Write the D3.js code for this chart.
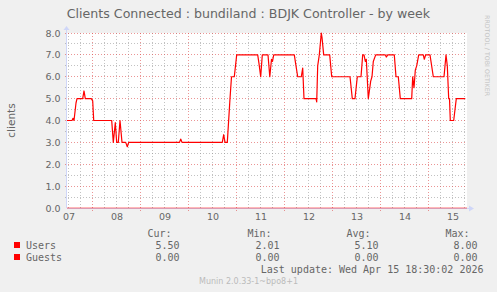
<!DOCTYPE html>
<html>
<head>
<meta charset="utf-8">
<script src="https://cdn.jsdelivr.net/npm/d3@7"></script>
<style>
    html, body { margin: 0; padding: 0; background: #f0f0f0; }
    svg { display: block; }
    text { font-family: "DejaVu Sans", sans-serif; fill: #666; }
    .mono { font-family: "DejaVu Sans Mono", monospace; }
</style>
</head>
<body>
<svg id="chart" width="497" height="292"></svg>
<script>
// Donnees (heures depuis le 07 avril 00:00 UTC)
const title = "Clients Connected : bundiland : BDJK Controller - by week";
const t0 = Date.UTC(2026, 3, 7);
const viewStartHours = 11.25;
const viewEndHours = 211.25;

const usersHours = [
    11.25, 13.75, 14.25, 14.75, 15.75, 16.25, 19.1, 19.75, 20.4, 23.4, 24.1, 24.6,
    33.6, 34.4, 35.4, 36.1, 36.9, 37.75, 38.75, 40.6, 41.4, 42.1,
    67.5, 68.1, 68.75, 88.9, 89.6, 90.25, 91.4, 92.75, 93.5, 94.9, 96.1,
    106.6, 107.25, 108.1, 108.9, 111.75, 112.65, 113.5, 114, 114.6,
    124.9, 125.75, 126.6, 128.4, 129.1, 129.75, 135.75, 136.1, 136.6, 137.4, 138.4, 138.75, 139.6,
    142.6, 143.6, 152.75, 153.9, 155.25, 156.4, 158.25, 159.1, 159.75, 160.4, 160.9, 161.9,
    163.1, 163.75, 164.4, 165.6, 170.4, 170.9, 171.6, 174.9, 175.75, 176.9, 177.9,
    183.6, 184.1, 184.75, 185.4, 186.1, 187.1, 189.4, 189.9, 190.6, 192.75, 194.4,
    199.75, 200.75, 201.4, 202.1, 202.5, 202.9, 204.6, 205.9, 210.4
];
const usersValues = [
    4.0, 4.0, 4.1, 4.0, 4.8, 5.0, 5.0, 5.35, 5.0, 5.0, 4.9, 4.0,
    4.0, 3.0, 3.9, 3.0, 3.0, 4.0, 3.0, 3.0, 2.8, 3.0,
    3.0, 3.15, 3.0, 3.0, 3.35, 3.0, 3.0, 5.0, 6.0, 6.0, 7.0,
    7.0, 6.6, 6.0, 7.0, 7.0, 6.0, 6.8, 6.7, 7.0,
    7.0, 6.5, 6.0, 6.0, 6.4, 5.0, 5.0, 4.85, 6.5, 7.0, 8.0, 7.8, 7.0,
    7.0, 6.0, 6.0, 5.0, 5.0, 6.0, 6.0, 7.0, 7.0, 6.7, 6.8, 5.0,
    5.8, 6.0, 6.7, 7.0, 7.0, 6.9, 7.0, 7.0, 6.0, 6.0, 5.0,
    5.0, 6.0, 5.5, 6.3, 6.5, 7.0, 7.0, 6.8, 7.0, 7.0, 6.0,
    6.0, 7.0, 6.5, 5.0, 5.0, 4.0, 4.0, 5.0, 5.0
];
const guestsHours = [11.25, 211.25];
const guestsValues = [0, 0];

const legendNames = ["Users", "Guests"];
const legendCur = ["5.50", "0.00"];
const legendMin = ["2.01", "0.00"];
const legendAvg = ["5.10", "0.00"];
const legendMax = ["8.00", "0.00"];
const yTicks = [0, 1, 2, 3, 4, 5, 6, 7, 8];
const yMinorTicks = [0.5, 1.5, 2.5, 3.5, 4.5, 5.5, 6.5, 7.5];
const lastUpdate = "Last update: Wed Apr 15 18:30:02 2026";
const version = "Munin 2.0.33-1~bpo8+1";

const toDate = h => new Date(t0 + h * 3600000);

const svg = d3.select("#chart");
const plotLeft = 67, plotRight = 467, plotTop = 33, plotBottom = 208;

const x = d3.scaleUtc()
    .domain([toDate(viewStartHours), toDate(viewEndHours)])
    .range([plotLeft, plotRight]);
const y = d3.scaleLinear().domain([0, 8]).range([plotBottom, plotTop]);
const crisp = v => Math.floor(v) + 0.5;

// fond du canevas
svg.append("rect").attr("x", plotLeft).attr("y", plotTop)
    .attr("width", plotRight - plotLeft).attr("height", plotBottom - plotTop)
    .attr("fill", "#fff");

const grid = svg.append("g").attr("stroke-width", 1).attr("stroke-dasharray", "1,2");

// grille mineure
const minorHours = d3.utcHour.every(6).range(x.domain()[0], x.domain()[1])
    .filter(d => d.getUTCHours() !== 0);
grid.selectAll(".vminor").data(minorHours).enter().append("line")
    .attr("x1", d => crisp(x(d))).attr("x2", d => crisp(x(d)))
    .attr("y1", plotTop).attr("y2", plotBottom + 2)
    .attr("stroke", "rgba(143,143,143,0.55)");
grid.selectAll(".hminor").data(yMinorTicks).enter().append("line")
    .attr("x1", plotLeft - 2).attr("x2", plotRight)
    .attr("y1", d => crisp(y(d))).attr("y2", d => crisp(y(d)))
    .attr("stroke", "rgba(143,143,143,0.55)");

// grille majeure
const days = d3.utcDay.range(x.domain()[0], x.domain()[1]);
grid.selectAll(".vmajor").data(days).enter().append("line")
    .attr("x1", d => crisp(x(d))).attr("x2", d => crisp(x(d)))
    .attr("y1", plotTop).attr("y2", plotBottom + 3)
    .attr("stroke", "rgba(222,79,79,0.6)");
grid.selectAll(".hmajor").data(yTicks.slice(1)).enter().append("line")
    .attr("x1", plotLeft - 2).attr("x2", plotRight)
    .attr("y1", d => crisp(y(d))).attr("y2", d => crisp(y(d)))
    .attr("stroke", "rgba(222,79,79,0.6)");

// axes
svg.append("line").attr("x1", plotLeft - 0.5).attr("x2", plotLeft - 0.5)
    .attr("y1", plotBottom).attr("y2", plotTop - 4).attr("stroke", "#CFD6F8");
svg.append("path").attr("d", `M${plotLeft - 3.5},${plotTop - 3}L${plotLeft - 0.5},${plotTop - 7}L${plotLeft + 2.5},${plotTop - 3}Z`)
    .attr("fill", "#CFD6F8");
svg.append("line").attr("x1", plotLeft).attr("x2", plotRight + 4)
    .attr("y1", plotBottom + 0.5).attr("y2", plotBottom + 0.5).attr("stroke", "#CFD6F8");
svg.append("path").attr("d", `M${plotRight + 2},${plotBottom - 2.5}L${plotRight + 7},${plotBottom + 0.5}L${plotRight + 2},${plotBottom + 3.5}Z`)
    .attr("fill", "#CFD6F8");

// etiquettes Y
svg.selectAll(".ylab").data(yTicks).enter().append("text")
    .attr("x", 60.5).attr("y", d => y(d) + 3.6)
    .attr("text-anchor", "end").attr("font-size", 9.5)
    .text(d => d.toFixed(1));

// etiquettes X (midi de chaque jour)
const labelDays = d3.utcHour.every(12).range(x.domain()[0], x.domain()[1])
    .filter(d => d.getUTCHours() === 12);
svg.selectAll(".xlab").data(labelDays).enter().append("text")
    .attr("x", d => x(d) + 0.5).attr("y", 219.5)
    .attr("text-anchor", "middle").attr("font-size", 9.5)
    .text(d3.utcFormat("%d"));

// series
const line = d3.line().x(d => x(toDate(d[0]))).y(d => y(d[1]));
svg.append("path").datum(guestsHours.map((h, i) => [h, guestsValues[i]]))
    .attr("d", line).attr("fill", "none").attr("stroke", "#ff0000").attr("stroke-width", 1)
    .attr("opacity", 0.55);
svg.append("path").datum(usersHours.map((h, i) => [h, usersValues[i]]))
    .attr("d", line).attr("fill", "none").attr("stroke", "#ff0000")
    .attr("stroke-width", 1.2).attr("stroke-linejoin", "round");

// titres
svg.append("text").attr("x", 248.5).attr("y", 17.5).attr("text-anchor", "middle")
    .attr("font-size", 12.6).text(title);
svg.append("text").attr("transform", "translate(15,120.5) rotate(-90)")
    .attr("text-anchor", "middle").attr("font-size", 10.5).text("clients");
svg.append("text").attr("transform", "translate(485,15) rotate(90)")
    .attr("font-size", 6.3).style("fill", "#c4c4c4").text("RRDTOOL / TOBI OETIKER");

// legende
const cols = [
    { head: "Cur:", vals: legendCur, x: 179.5 },
    { head: "Min:", vals: legendMin, x: 279.5 },
    { head: "Avg:", vals: legendAvg, x: 378.5 },
    { head: "Max:", vals: legendMax, x: 477.5 }
];
cols.forEach(c => {
    svg.append("text").attr("class", "mono").attr("x", c.x - 8).attr("y", 237.3)
        .attr("text-anchor", "end").attr("font-size", 10).text(c.head);
    svg.selectAll(null).data(c.vals).enter().append("text").attr("class", "mono")
        .attr("x", c.x).attr("y", (d, i) => 249.3 + i * 12)
        .attr("text-anchor", "end").attr("font-size", 10).text(d => d);
});
legendNames.forEach((n, i) => {
    svg.append("rect").attr("x", 14).attr("y", 242 + i * 12).attr("width", 6).attr("height", 6)
        .attr("fill", "#ff0000");
    svg.append("text").attr("class", "mono").attr("x", 26).attr("y", 249.3 + i * 12)
        .attr("font-size", 10).text(n);
});
svg.append("text").attr("class", "mono").attr("x", 483.5).attr("y", 273.3)
    .attr("text-anchor", "end").attr("font-size", 10).text(lastUpdate);
svg.append("text").attr("x", 248.5).attr("y", 284).attr("text-anchor", "middle")
    .attr("font-size", 8).style("fill", "#bbb").text(version);
</script>
</body>
</html>
